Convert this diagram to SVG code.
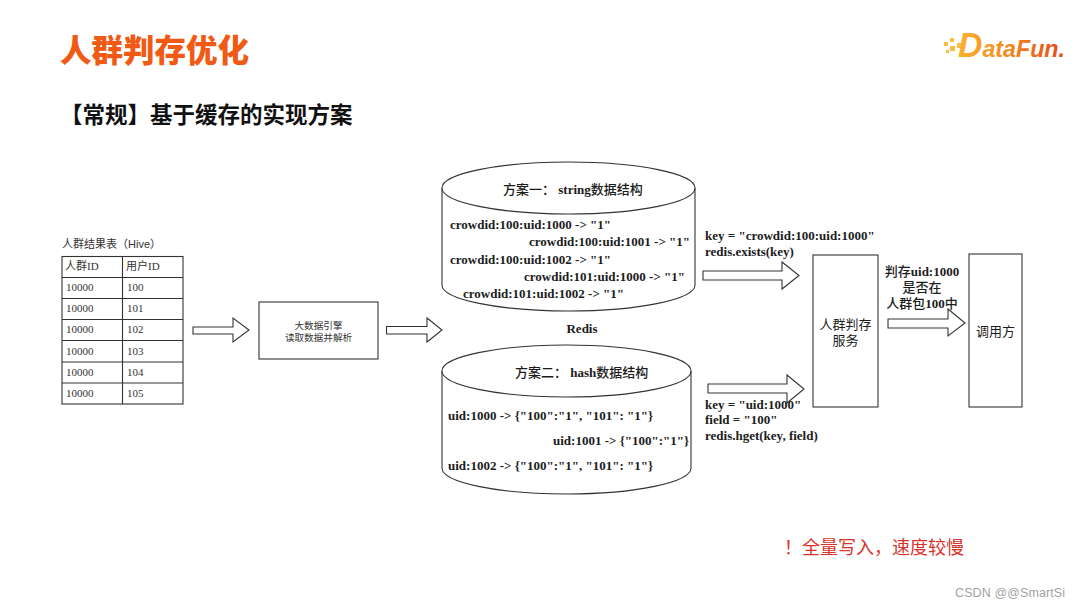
<svg xmlns="http://www.w3.org/2000/svg" width="1080" height="608" viewBox="0 0 1080 608">
<style>
text{font-family:"Liberation Serif","Noto Sans CJK SC",serif;fill:#1c1c1c}
.b{font-weight:700;font-size:13px}
.n{font-weight:500}
.s{fill:#fff;stroke:#333;stroke-width:1.1}
.g{fill:none;stroke:#333;stroke-width:1.1}
.t{font-size:11px;fill:#333}
.h{font-family:"Liberation Sans","Noto Sans CJK SC",sans-serif;font-size:11px;fill:#333}
.c{text-anchor:middle}
</style>
<defs>
<linearGradient id="lg" x1="0" x2="1" y1="0" y2="0"><stop offset="0" stop-color="#f9b233"/><stop offset="0.45" stop-color="#f28a1e"/><stop offset="1" stop-color="#e5481a"/></linearGradient>
</defs>
<rect width="1080" height="608" fill="#fff"/>
<text x="60" y="62" style="font-family:'Noto Sans CJK SC',sans-serif;font-weight:900;font-size:31.500px;fill:#f05a14">人群判存优化</text>
<text x="60" y="122.500" style="font-family:'Noto Sans CJK SC',sans-serif;font-weight:700;font-size:22.500px;fill:#111">【常规】基于缓存的实现方案</text>
<g id="logo">
<g fill="#f7bd45"><rect x="944" y="42" width="4" height="4"/><rect x="950" y="38" width="4" height="4"/><rect x="950" y="46" width="5" height="5"/><rect x="957" y="43" width="5" height="5"/><rect x="946" y="50" width="3" height="3"/></g>
<text x="958" y="57" style="font-family:'Liberation Sans',sans-serif;font-weight:700;font-style:italic;font-size:24px;fill:url(#lg)" textLength="107" lengthAdjust="spacingAndGlyphs"><tspan style="font-size:35px">D</tspan>ataFun.</text>
</g>
<g id="hive-table">
<text x="62" y="248" class="h">人群结果表（Hive）</text>
<rect class="g" x="62" y="256.500" width="121" height="147.500"/>
<path class="g" d="M122.500 256.500V404M62 277.500H183M62 298.500H183M62 319.500H183M62 340.500H183M62 362H183M62 383H183"/>
<g>
<text x="65" y="270" class="t">人群ID</text><text x="126" y="270" class="t">用户ID</text>
<text x="66" y="291" class="t">10000</text><text x="127" y="291" class="t">100</text>
<text x="66" y="312" class="t">10000</text><text x="127" y="312" class="t">101</text>
<text x="66" y="333" class="t">10000</text><text x="127" y="333" class="t">102</text>
<text x="66" y="354.500" class="t">10000</text><text x="127" y="354.500" class="t">103</text>
<text x="66" y="375.500" class="t">10000</text><text x="127" y="375.500" class="t">104</text>
<text x="66" y="397" class="t">10000</text><text x="127" y="397" class="t">105</text>
</g>
</g>
<g id="engine">
<rect class="s" x="259" y="302" width="119" height="57"/>
<text x="318.500" y="328.500" class="h c" style="font-size:9.600px">大数据引擎</text>
<text x="318.500" y="341" class="h c" style="font-size:9.600px">读取数据并解析</text>
</g>
<g id="redis-string">
<path class="s" d="M442 188V285A126.500 26 0 0 0 695 285V188"/>
<ellipse class="s" cx="568.500" cy="188" rx="126.500" ry="26"/>
<text x="503" y="194" class="b"><tspan class="n">方案一：</tspan> string<tspan class="n">数据结构</tspan></text>
<text x="450" y="229" class="b">crowdid:100:uid:1000 -&gt; "1"</text>
<text x="529" y="246" class="b">crowdid:100:uid:1001 -&gt; "1"</text>
<text x="450" y="264" class="b">crowdid:100:uid:1002 -&gt; "1"</text>
<text x="524" y="281" class="b">crowdid:101:uid:1000 -&gt; "1"</text>
<text x="463" y="298" class="b">crowdid:101:uid:1002 -&gt; "1"</text>
</g>
<text id="redis" x="582" y="333" class="b c">Redis</text>
<g id="redis-hash">
<path class="s" d="M442 371V468A124.500 26 0 0 0 691 468V371"/>
<ellipse class="s" cx="566.500" cy="371" rx="124.500" ry="26"/>
<text x="515" y="377" class="b"><tspan class="n">方案二：</tspan> hash<tspan class="n">数据结构</tspan></text>
<text x="448" y="420" class="b">uid:1000 -&gt; {"100":"1", "101": "1"}</text>
<text x="553" y="445" class="b">uid:1001 -&gt; {"100":"1"}</text>
<text x="448" y="470" class="b">uid:1002 -&gt; {"100":"1", "101": "1"}</text>
</g>
<g id="connectors">
<path class="s" d="M193 327H233V318L249 330L233 342V334H193Z"/>
<path class="s" d="M386.500 326.500H427V318L442 330L427 342V334H386.500Z"/>
<path class="s" d="M703 271H782V262L799 275.500L782 289V280H703Z"/>
<path class="s" d="M708 384H787V375L804 389L787 403V393H708Z"/>
<path class="s" d="M888 319H948V309L965 323L948 336V328H888Z"/>
</g>
<g id="labels">
<text x="705" y="240" class="b">key = "crowdid:100:uid:1000"</text>
<text x="705" y="256" class="b">redis.exists(key)</text>
<text x="705" y="409" class="b">key = "uid:1000"</text>
<text x="705" y="424" class="b">field = "100"</text>
<text x="705" y="440" class="b">redis.hget(key, field)</text>
</g>
<g id="service">
<rect class="s" x="813" y="255" width="65" height="152"/>
<text x="845.500" y="329" class="c" style="font-size:13px">人群判存</text>
<text x="845.500" y="345" class="c" style="font-size:13px">服务</text>
</g>
<g id="check-label">
<text x="922" y="276" class="b c"><tspan class="n">判存</tspan>uid:1000</text>
<text x="922" y="292" class="b c"><tspan class="n">是否在</tspan></text>
<text x="922" y="308" class="b c"><tspan class="n">人群包</tspan>100<tspan class="n">中</tspan></text>
</g>
<g id="caller">
<rect class="s" x="969" y="254" width="53" height="153"/>
<text x="995.500" y="336" class="c" style="font-size:13px">调用方</text>
</g>
<text x="784" y="554" style="font-family:'Noto Sans CJK SC',sans-serif;font-size:18px;fill:#d8322a">！全量写入，速度较慢</text>
<text x="955" y="597" style="font-family:'Liberation Sans',sans-serif;font-size:12.500px;fill:#a3a3a3;letter-spacing:.1px">CSDN @@SmartSi</text>
</svg>
